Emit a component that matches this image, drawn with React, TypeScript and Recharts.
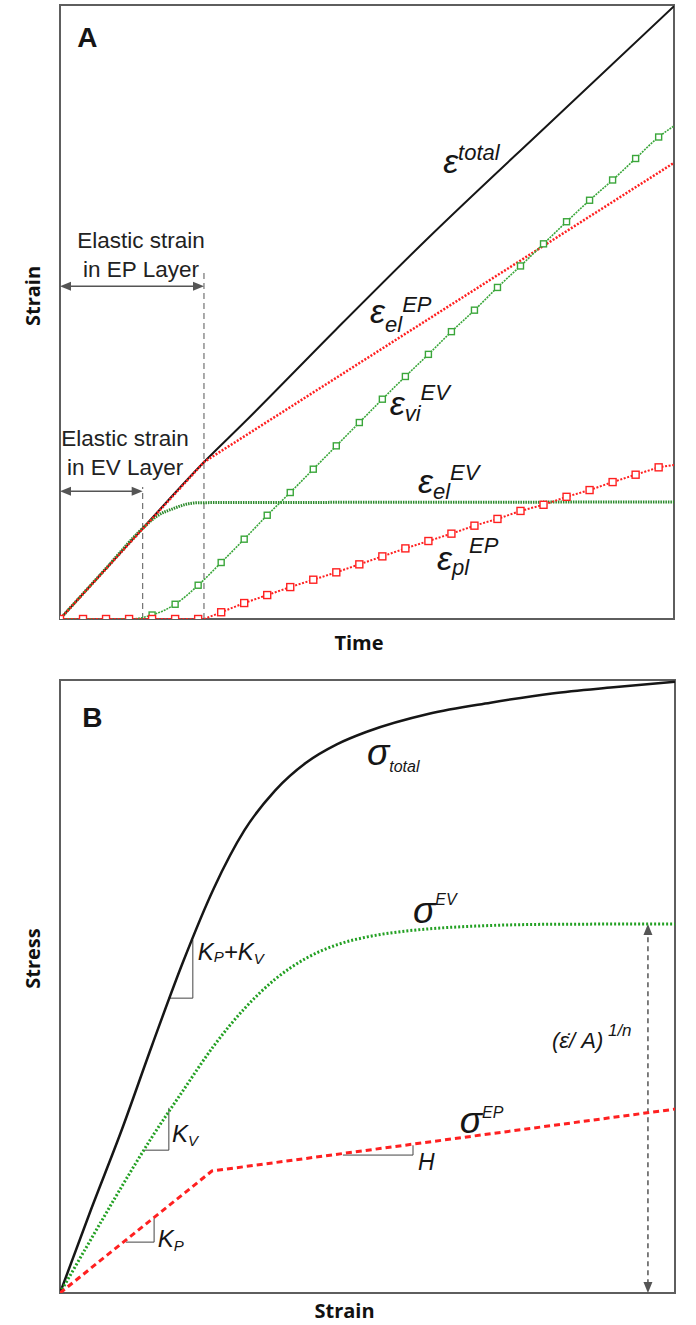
import React from 'react'
import { LineChart, Line, XAxis, YAxis, ReferenceArea, ReferenceLine, ReferenceDot } from 'recharts'

const RED = '#ff2020'
const GREEN = '#3aa63a'
const DARK_GREEN = '#2b8a2b'
const INK = '#161616'
const FRAME = '#5e5e5e'
const GUIDE = '#555555'
const SANS = "'Liberation Sans', Arial, sans-serif"
const TITLE = "'Open Sans', 'Liberation Sans', sans-serif"

// ---- Panel A: strain vs time (both in % of full scale) ----
const totalTime = [0, 13.5, 23.5, 30, 45, 60, 80, 100]
const totalStrain = [0, 14.8, 25.6, 32, 47.2, 62.1, 81, 99.8]

const epElTime = [0, 23.5, 100]
const epElStrain = [0, 25.6, 74.3]

const evElTime = [0, 7, 13.5, 15.7, 18.5, 20.6, 22.8, 100]
const evElStrain = [0, 7.7, 14.8, 16.7, 18.0, 18.7, 18.95, 19.05]

const viTime = [0, 3.75, 7.5, 11.25, 15, 18.75, 22.5, 26.25, 30, 33.75, 37.5, 41.25, 45, 48.75, 52.5, 56.25, 60, 63.75, 67.5, 71.25, 75, 78.75, 82.5, 86.25, 90, 93.75, 97.5, 100]
const viStrain = [0, 0, 0, 0, 0.65, 2.4, 5.5, 9.2, 13.0, 16.9, 20.6, 24.4, 28.2, 32.0, 35.8, 39.5, 43.1, 46.8, 50.3, 54.0, 57.5, 61.1, 64.7, 68.2, 71.5, 75.0, 78.5, 80.3]

const plTime = [0, 3.75, 7.5, 11.25, 15, 18.75, 22.5, 23.5, 26.25, 30, 33.75, 37.5, 41.25, 45, 48.75, 52.5, 56.25, 60, 63.75, 67.5, 71.25, 75, 78.75, 82.5, 86.25, 90, 93.75, 97.5, 100]
const plStrain = [0, 0, 0, 0, 0, 0, 0, 0, 1.1, 2.6, 3.9, 5.2, 6.4, 7.6, 8.9, 10.2, 11.5, 12.7, 13.9, 15.2, 16.3, 17.6, 18.6, 19.9, 21.0, 22.3, 23.5, 24.7, 25.1]

const MARKER_STEP = 3.75

// ---- Panel B: stress vs strain ----
const totalBStrain = [0, 5, 10, 15, 20, 25, 30, 35, 40, 45, 50, 60, 70, 80, 90, 100]
const totalBStress = [0, 13.5, 26.5, 40.5, 54, 66, 75.5, 82, 86.5, 89.5, 91.6, 94.5, 96.3, 97.8, 98.8, 99.7]

const evBStrain = [0, 5, 10, 15, 20, 25, 30, 35, 40, 45, 50, 55, 60, 70, 80, 100]
const evBStress = [0, 8.7, 17.3, 25.5, 33, 40.3, 46.4, 51.2, 54.6, 56.8, 58.1, 58.9, 59.4, 59.95, 60.15, 60.2]

const epBStrain = [0, 24.7, 100]
const epBStress = [0, 19.9, 30.0]

const zip = (xs: number[], ys: number[]) => xs.map((x, i) => ({ t: x, v: ys[i] }))

const isMarker = (t: number) => t < 100 && Math.abs(t / MARKER_STEP - Math.round(t / MARKER_STEP)) < 1e-6

type Part = [string, number, number]

function MathText({ cx, cy, parts, italic = true, weight = 400 }: any) {
  let prev = 0
  return (
    <text x={cx} y={cy} fontFamily={SANS} fontStyle={italic ? 'italic' : 'normal'} fontWeight={weight} fill={INK}>
      {(parts as Part[]).map(([txt, size, off], i) => {
        const dy = off - prev
        prev = off
        return (
          <tspan key={i} fontSize={size} dy={dy}>
            {txt}
          </tspan>
        )
      })}
    </text>
  )
}

function TwoLines({ cx, cy, lines }: any) {
  return (
    <text x={cx} y={cy} fontFamily={SANS} fontSize={22.5} fill="#222" textAnchor="middle">
      {lines.map((l: string, i: number) => (
        <tspan key={i} x={cx} dy={i === 0 ? 0 : 29}>
          {l}
        </tspan>
      ))}
    </text>
  )
}

function DoubleArrow(p: any) {
  const { x1, y1, x2, y2, dashed } = p
  const len = Math.hypot(x2 - x1, y2 - y1) || 1
  const ux = (x2 - x1) / len
  const uy = (y2 - y1) / len
  const head = 11
  const half = 4.5
  const tri = (tx: number, ty: number, dx: number, dy: number) => {
    const bx = tx - dx * head
    const by = ty - dy * head
    return `${tx},${ty} ${bx - dy * half},${by + dx * half} ${bx + dy * half},${by - dx * half}`
  }
  return (
    <g>
      <line
        x1={x1 + ux * head * 0.8}
        y1={y1 + uy * head * 0.8}
        x2={x2 - ux * head * 0.8}
        y2={y2 - uy * head * 0.8}
        stroke={GUIDE}
        strokeWidth={1.5}
        strokeDasharray={dashed ? '5 4' : undefined}
      />
      <polygon points={tri(x2, y2, ux, uy)} fill={GUIDE} />
      <polygon points={tri(x1, y1, -ux, -uy)} fill={GUIDE} />
    </g>
  )
}

function XTitle({ viewBox, text, dx, dy }: any) {
  return (
    <text x={viewBox.x + viewBox.width / 2 + dx} y={viewBox.y + dy} textAnchor="middle" fontFamily={TITLE} fontWeight={700} fontSize={20} fill="#111">
      {text}
    </text>
  )
}

function YTitle({ viewBox, text, dy }: any) {
  const x = viewBox.x + 40
  const y = viewBox.y + viewBox.height / 2 + dy
  return (
    <text x={x} y={y} transform={`rotate(-90, ${x}, ${y})`} textAnchor="middle" fontFamily={TITLE} fontWeight={700} fontSize={20} fill="#111">
      {text}
    </text>
  )
}

const squareDot = (color: string, size: number) => (p: any) =>
  isMarker(p.payload.t) ? (
    <rect key={`m-${p.index}`} x={p.cx - size / 2} y={p.cy - size / 2} width={size} height={size} fill="#fff" stroke={color} strokeWidth={1.4} />
  ) : (
    <g key={`m-${p.index}`} />
  )

// annotation anchors, in axis units
const labelsA: { x: number; y: number; parts: Part[] }[] = [
  { x: 62.4, y: 72.6, parts: [['ε', 34, 0], ['total', 22, -13]] },
  { x: 50.5, y: 48.2, parts: [['ε', 34, 0], ['el', 22, 9], ['EP', 22, -11]] },
  { x: 53.7, y: 33.2, parts: [['ε', 34, 0], ['vi', 22, 6], ['EV', 22, -15]] },
  { x: 58.3, y: 20.5, parts: [['ε', 34, 0], ['el', 22, 6], ['EV', 22, -13]] },
  { x: 61.4, y: 8.0, parts: [['ε', 34, 0], ['pl', 22, 5], ['EP', 22, -17]] },
]

const labelsB: { x: number; y: number; parts: Part[] }[] = [
  { x: 49.9, y: 86.1, parts: [['σ', 37, 0], ['total', 16, 7]] },
  { x: 57.4, y: 60.4, parts: [['σ', 37, 0], ['EV', 16, -18]] },
  { x: 65.0, y: 26.1, parts: [['σ', 37, 0], ['EP', 16, -15]] },
  { x: 22.4, y: 54.3, parts: [['K', 24, 0], ['P', 15, 2], ['+', 24, 0], ['K', 24, 0], ['V', 15, 4]] },
  { x: 18.2, y: 24.6, parts: [['K', 24, 0], ['V', 15, 4]] },
  { x: 15.9, y: 7.5, parts: [['K', 24, 0], ['P', 15, 4]] },
  { x: 58.2, y: 20.1, parts: [['H', 23, 0]] },
  { x: 80.0, y: 40.0, parts: [['(ε̇/ A)', 22, 0], [' 1/n', 17, -12]] },
]

// slope triangles [x1, y1, x2, y2]
const slopeTicks = [
  [17.6, 48.1, 21.6, 48.1], [21.6, 48.1, 21.6, 57.6],
  [13.7, 23.3, 17.7, 23.3], [17.7, 23.3, 17.7, 30.2],
  [10.7, 8.3, 15.3, 8.3], [15.3, 8.3, 15.3, 12.2],
  [46.0, 22.5, 57.4, 22.5], [57.4, 22.5, 57.4, 24.1],
]

function PanelA() {
  return (
    <LineChart width={696} height={660} margin={{ top: 5, right: 22, bottom: 0, left: 0 }}>
      <XAxis type="number" dataKey="t" domain={[0, 100]} ticks={[]} tick={false} axisLine={false} tickLine={false} height={41} allowDataOverflow
        label={{ content: (p: any) => <XTitle viewBox={p.viewBox} text="Time" dx={-8} dy={31} /> }} />
      <YAxis type="number" dataKey="v" domain={[0, 100]} ticks={[]} tick={false} axisLine={false} tickLine={false} width={60} allowDataOverflow
        label={{ content: (p: any) => <YTitle viewBox={p.viewBox} text="Strain" dy={-16} /> }} />
      <ReferenceArea x1={0} x2={100} y1={0} y2={100} fill="none" stroke={FRAME} strokeWidth={2} />

      <ReferenceLine segment={[{ x: 23.45, y: 0 }, { x: 23.45, y: 56.4 }]} stroke={GUIDE} strokeWidth={1} strokeDasharray="6 4" />
      <ReferenceLine segment={[{ x: 13.47, y: 0 }, { x: 13.47, y: 21.5 }]} stroke={GUIDE} strokeWidth={1} strokeDasharray="6 4" />
      <ReferenceLine segment={[{ x: 0, y: 54.2 }, { x: 23.45, y: 54.2 }]} shape={(p: any) => <DoubleArrow {...p} />} />
      <ReferenceLine segment={[{ x: 0, y: 20.8 }, { x: 13.47, y: 20.8 }]} shape={(p: any) => <DoubleArrow {...p} />} />

      <Line data={zip(totalTime, totalStrain)} dataKey="v" type="monotone" stroke={INK} strokeWidth={2} dot={false} activeDot={false} isAnimationActive={false} />
      <Line data={zip(evElTime, evElStrain)} dataKey="v" type="monotone" stroke={DARK_GREEN} strokeWidth={3} strokeDasharray="1.5 1" dot={false} activeDot={false} isAnimationActive={false} />
      <Line data={zip(epElTime, epElStrain)} dataKey="v" type="linear" stroke={RED} strokeWidth={2.5} strokeDasharray="2 1.6" dot={false} activeDot={false} isAnimationActive={false} />
      <Line data={zip(viTime, viStrain)} dataKey="v" type="monotone" stroke={GREEN} strokeWidth={1.6} strokeDasharray="2 1" dot={squareDot(GREEN, 6)} activeDot={false} isAnimationActive={false} />
      <Line data={zip(plTime, plStrain)} dataKey="v" type="linear" stroke={RED} strokeWidth={2} strokeDasharray="2 1.6" dot={squareDot(RED, 7)} activeDot={false} isAnimationActive={false} />

      <ReferenceDot x={2.8} y={93.2} r={0} shape={(p: any) => <MathText cx={p.cx} cy={p.cy} italic={false} weight={700} parts={[['A', 28, 0]]} />} />
      <ReferenceDot x={13.2} y={60.4} r={0} shape={(p: any) => <TwoLines cx={p.cx} cy={p.cy} lines={['Elastic strain', 'in EP Layer']} />} />
      <ReferenceDot x={10.6} y={28.2} r={0} shape={(p: any) => <TwoLines cx={p.cx} cy={p.cy} lines={['Elastic strain', 'in EV Layer']} />} />
      {labelsA.map((l, i) => (
        <ReferenceDot key={i} x={l.x} y={l.y} r={0} shape={(p: any) => <MathText cx={p.cx} cy={p.cy} parts={l.parts} />} />
      ))}
    </LineChart>
  )
}

function PanelB() {
  return (
    <LineChart width={696} height={665} margin={{ top: 20, right: 21, bottom: 0, left: 0 }}>
      <XAxis type="number" dataKey="t" domain={[0, 100]} ticks={[]} tick={false} axisLine={false} tickLine={false} height={32} allowDataOverflow
        label={{ content: (p: any) => <XTitle viewBox={p.viewBox} text="Strain" dx={-23} dy={25} /> }} />
      <YAxis type="number" dataKey="v" domain={[0, 100]} ticks={[]} tick={false} axisLine={false} tickLine={false} width={60} allowDataOverflow
        label={{ content: (p: any) => <YTitle viewBox={p.viewBox} text="Stress" dy={-28} /> }} />
      <ReferenceArea x1={0} x2={100} y1={0} y2={100} fill="none" stroke={FRAME} strokeWidth={2} />

      {slopeTicks.map(([a, b, c, d], i) => (
        <ReferenceLine key={i} segment={[{ x: a, y: b }, { x: c, y: d }]} stroke="#444" strokeWidth={1} />
      ))}
      <ReferenceLine segment={[{ x: 95.6, y: 0 }, { x: 95.6, y: 60.2 }]} shape={(p: any) => <DoubleArrow {...p} dashed />} />

      <Line data={zip(totalBStrain, totalBStress)} dataKey="v" type="monotone" stroke={INK} strokeWidth={2.5} dot={false} activeDot={false} isAnimationActive={false} />
      <Line data={zip(evBStrain, evBStress)} dataKey="v" type="monotone" stroke="#23a023" strokeWidth={3} strokeDasharray="2 2" dot={false} activeDot={false} isAnimationActive={false} />
      <Line data={zip(epBStrain, epBStress)} dataKey="v" type="linear" stroke={RED} strokeWidth={3} strokeDasharray="6 4" dot={false} activeDot={false} isAnimationActive={false} />

      <ReferenceDot x={3.6} y={92.3} r={0} shape={(p: any) => <MathText cx={p.cx} cy={p.cy} italic={false} weight={700} parts={[['B', 28, 0]]} />} />
      {labelsB.map((l, i) => (
        <ReferenceDot key={i} x={l.x} y={l.y} r={0} shape={(p: any) => <MathText cx={p.cx} cy={p.cy} parts={l.parts} />} />
      ))}
    </LineChart>
  )
}

export default function App() {
  return (
    <div style={{ position: 'absolute', left: 0, top: 0, width: 696, height: 1325, background: '#fff' }}>
      <PanelA />
      <PanelB />
    </div>
  )
}
